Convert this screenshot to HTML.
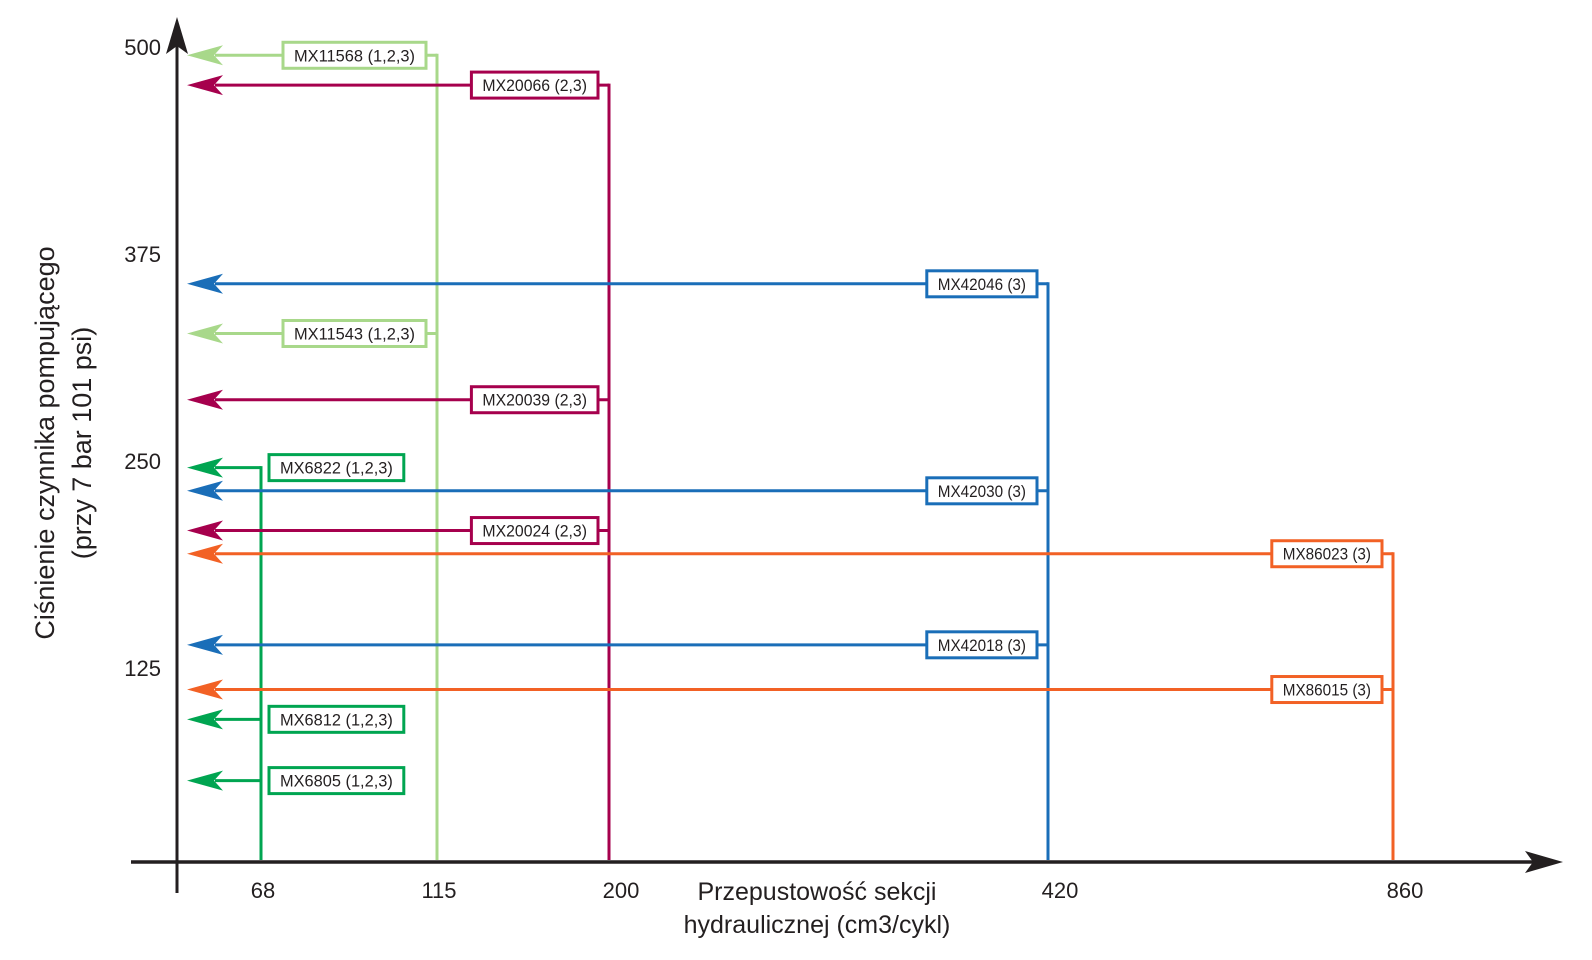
<!DOCTYPE html>
<html><head><meta charset="utf-8"><style>
html,body{margin:0;padding:0;background:#fff;}
svg{display:block;font-family:"Liberation Sans",sans-serif;}
</style></head><body>
<svg id="chart" width="1592" height="960" viewBox="0 0 1592 960">
<g id="axes"></g>
<g id="series"></g>
</svg>
<script>
const xTicks = [68, 115, 200, 420, 860];
const yTicks = [125, 250, 375, 500];
const labels = ["MX11568 (1,2,3)","MX20066 (2,3)","MX42046 (3)","MX11543 (1,2,3)","MX20039 (2,3)","MX6822 (1,2,3)","MX42030 (3)","MX20024 (2,3)","MX86023 (3)","MX42018 (3)","MX86015 (3)","MX6812 (1,2,3)","MX6805 (1,2,3)"];
const flows = [115, 200, 420, 115, 200, 68, 420, 200, 860, 420, 860, 68, 68];
const pressures = [495, 477, 357, 327, 287, 246, 232, 208, 194, 139, 112, 94, 57];
const groupFlows = [68, 115, 200, 420, 860];
const groupColors = ["#00a551", "#a8d88a", "#a6004d", "#1a6eb8", "#f26125"];

// layout (pixel positions of category ticks)
const xTickPx = [261, 437, 609, 1048, 1393];
const AX = 177, AY = 862;
function xs(v){
  for(let i=0;i<xTicks.length-1;i++){
    if(v<=xTicks[i+1]){const t=(v-xTicks[i])/(xTicks[i+1]-xTicks[i]);return xTickPx[i]+t*(xTickPx[i+1]-xTickPx[i]);}
  }
  return xTickPx[xTickPx.length-1];
}
function ys(v){ return 875 - v*1.656; }
const NS="http://www.w3.org/2000/svg";
function mk(tag, attrs, parent){const e=document.createElementNS(NS,tag);for(const k in attrs)e.setAttribute(k,attrs[k]);parent.appendChild(e);return e;}
const axes=document.getElementById('axes'), ser=document.getElementById('series');

// axes
let e;
e=mk('line',{x1:AX,y1:893,x2:AX,y2:40,stroke:'#231f20','stroke-width':3},axes);
 
e=mk('path',{d:`M${AX} 17 L${AX+11} 54 L${AX} 46 L${AX-11} 54 Z`,fill:'#231f20'},axes);
 
e=mk('line',{x1:131,y1:AY,x2:1540,y2:AY,stroke:'#231f20','stroke-width':3.5},axes);
 
e=mk('path',{d:`M1563 ${AY} L1525 ${AY-11} L1533 ${AY} L1525 ${AY+11} Z`,fill:'#231f20'},axes);
 

yTicks.forEach(v=>{
  const t=mk('text',{x:161,y:ys(v)+8,'text-anchor':'end','font-size':22,fill:'#231f20'},axes);
  t.textContent=v;
   
});
xTicks.forEach(v=>{
  const t=mk('text',{x:xs(v)+(v>=200?12:2),y:898,'text-anchor':'middle','font-size':22,fill:'#231f20'},axes);
  t.textContent=v;
   
});
e=mk('text',{x:817,y:900,'text-anchor':'middle','font-size':25,fill:'#231f20'},axes);
e.textContent='Przepustowość sekcji';
 
e=mk('text',{x:817,y:933,'text-anchor':'middle','font-size':25,fill:'#231f20'},axes);
e.textContent='hydraulicznej (cm3/cykl)';
 
e=mk('text',{x:0,y:0,'text-anchor':'middle','font-size':27,fill:'#231f20',transform:'translate(54,443) rotate(-90)'},axes);
e.textContent='Ciśnienie czynnika pompującego';
 
e=mk('text',{x:0,y:0,'text-anchor':'middle','font-size':27,fill:'#231f20',transform:'translate(91,443) rotate(-90)'},axes);
e.textContent='(przy 7 bar 101 psi)';
 

// vertical group lines
groupFlows.forEach((f,gi)=>{
  let top=Infinity;
  flows.forEach((ff,i)=>{ if(ff===f) top=Math.min(top,ys(pressures[i])); });
  const l=mk('line',{x1:xs(f),y1:top-1.5,x2:xs(f),y2:AY-2,stroke:groupColors[gi],'stroke-width':3},ser);
   
});

// horizontal series
labels.forEach((lab,i)=>{
  const gi=groupFlows.indexOf(flows[i]);
  const col=groupColors[gi];
  const y=ys(pressures[i]), x=xs(flows[i]);
  const g=mk('g',{},ser);
  
  
  const l=mk('line',{x1:215,y1:y,x2:x,y2:y,stroke:col,'stroke-width':3},g);
   
  const a=mk('path',{d:`M187 ${y} L223 ${y-10} L214 ${y} L223 ${y+10} Z`,fill:col},g);
   
  const w = lab.length*8.2+20;
  let bx;
  if(flows[i]===xTicks[0]) bx = x+8; else bx = x-11-w;
  const r=mk('rect',{x:bx,y:y-13,width:w,height:26,fill:'#fff',stroke:col,'stroke-width':3},g);
   
  const t=mk('text',{x:bx+w/2,y:y+6,'text-anchor':'middle','font-size':17,fill:'#231f20',textLength:w-22,lengthAdjust:'spacingAndGlyphs'},g);
  t.textContent=lab;
   
});
</script>
</body></html>
